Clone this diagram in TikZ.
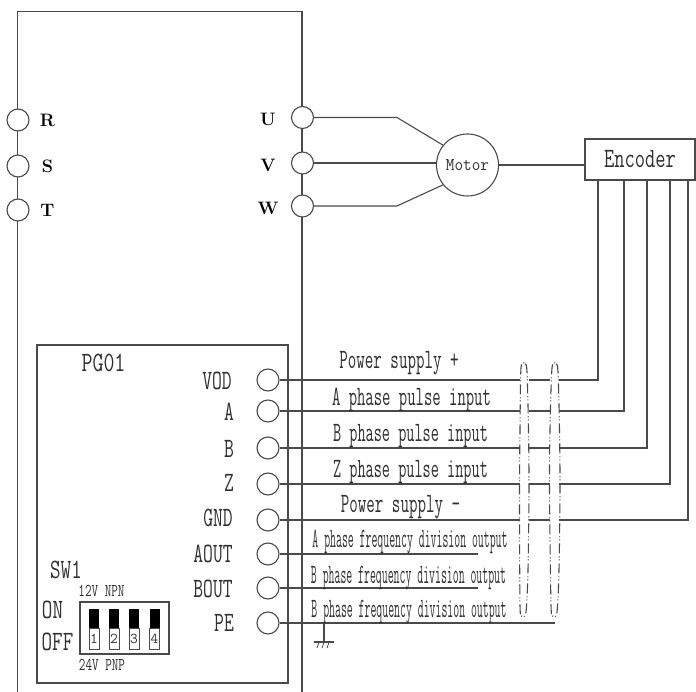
\documentclass[tikz,border=0pt]{standalone}
\usepackage{amsmath, amssymb, amsfonts, bm}

\definecolor{inkgray}{HTML}{4a4a4a}
\definecolor{textgray}{HTML}{303030}
\newcommand{\nrw}[2]{\scalebox{#1}[1]{#2}}

\tikzset{
  wire/.style={draw=inkgray, line width=1.1pt},
  term/.style={circle, draw=inkgray, line width=1.1pt, fill=white, inner sep=0pt, minimum size=22pt},
  lab/.style={text=textgray, inner sep=0pt, font=\ttfamily\fontsize{28}{30}\selectfont},
  smalllab/.style={text=textgray, inner sep=0pt, font=\ttfamily\fontsize{18}{20}\selectfont},
  boldlab/.style={text=black, inner sep=0pt, font=\bfseries\fontsize{18}{20}\selectfont},
  shield/.style={draw=inkgray, line width=1.1pt, dash pattern=on 10pt off 3pt on 1pt off 2pt on 1pt off 3pt}
}

\begin{document}
\begin{tikzpicture}[x=1pt,y=-1pt]
\useasboundingbox (0,0) rectangle (696,692);

\draw[wire] (17.5,692) -- (17.5,11.5) -- (302,11.5) -- (302,692);
\draw[wire] (37,345) rectangle (288,683);

\foreach \nm/\yy/\lab in {r/120/R, s/166/S, t/210/T}{
  \node[term] (\nm) at (18,\yy) {};
  \node[boldlab] (\nm lab) at (47.5,\yy) {\lab};
}
\foreach \nm/\yy/\lab in {u/117.5/U, v/163/V, w/206/W}{
  \node[term] (\nm) at (302.5,\yy) {};
  \node[boldlab] (\nm lab) at (268,\yy+2) {\lab};
}

\node[circle, draw=inkgray, line width=1.1pt, minimum size=62pt, inner sep=0pt] (motor) at (467.5,165) {};
\node[text=textgray, inner sep=0pt, font=\ttfamily\fontsize{18}{20}\selectfont] (motorlab) at (467.5,165) {\nrw{.93}{Motor}};
\node[draw=inkgray, line width=1.1pt, minimum width=110pt, minimum height=41pt, inner sep=0pt, lab] (enc) at (640,159.5) {\nrw{.71}{Encoder}};

\coordinate (ubend) at (397,117.5);
\coordinate (wbend) at (397,206);
\draw[wire] (u.east) -- (ubend) -- (motor.141);
\draw[wire] (v.east) -- (motor.west |- v.east);
\draw[wire] (w.east) -- (wbend) -- (motor.-141);
\draw[wire] (motor.east) -- (motor.east -| enc.west);

\node[lab] (pgname) at (103.5,363) {\nrw{.76}{PG01}};
\foreach \nm/\xx/\yy/\lab in {vod/217/381/VOD, a/229/412/A, b/229/449/B, z/229/483/Z, gnd/218/518/GND, aout/213/554/AOUT, bout/213/589/BOUT, pe/224/623/PE}{
  \node[lab] (\nm lab) at (\xx,\yy) {\nrw{.68}{\lab}};
}

\foreach \nm/\yy in {vod/380, a/411, b/448, z/484, gnd/520, aout/554, bout/588, pe/623}{
  \node[term] (\nm) at (268,\yy) {};
}

\foreach \nm/\yy/\xx in {vod/380/598, a/411/624, b/448/647, z/484/670, gnd/520/688}{
  \coordinate (\nm p) at (519.5,\yy);
  \coordinate (\nm q) at (528.5,\yy);
  \coordinate (\nm m) at (550,\yy);
  \coordinate (\nm n) at (559,\yy);
  \coordinate (\nm e) at (\xx,180);
  \draw[wire] (\nm.east) -- (\nm p);
  \draw[wire] (\nm q) -- (\nm m);
  \draw[wire] (\nm n) -| (\nm e);
}

\coordinate (aoutend) at (478,554);
\coordinate (boutend) at (478,588);
\coordinate (peend) at (555,623);
\draw[wire] (aout.east) -- (aoutend);
\draw[wire] (bout.east) -- (boutend);
\draw[wire] (pe.east) -- (peend);

\coordinate (gndtop) at (324,623);
\coordinate (gndbar) at (324,642);
\draw[wire] (gndtop) -- (gndbar);
\draw[wire] (314,642) -- (334,642);
\foreach \xx in {319,324,329}{
  \draw[draw=inkgray, line width=.8pt] (\xx,642) -- (\xx-2,648);
}

\draw[shield] plot[smooth cycle] coordinates {(521,368) (525,364) (527,372) (528.5,430) (529,490) (528,570) (526,612) (522,616) (520,605) (519.5,490) (520,430)};
\draw[shield] plot[smooth cycle] coordinates {(552,368) (556,364) (558,372) (559.5,430) (560,490) (559,570) (557,612) (553,616) (551,605) (549.5,490) (550,430)};

\node[lab] (lab1) at (399,363) {\nrw{.59}{Power supply +}};
\node[lab] (lab2) at (411.5,400) {\nrw{.58}{A phase pulse input}};
\node[lab] (lab3) at (410.5,436) {\nrw{.565}{B phase pulse input}};
\node[lab] (lab4) at (410.5,472) {\nrw{.565}{Z phase pulse input}};
\node[lab] (lab5) at (400.5,507) {\nrw{.59}{Power supply -}};
\node[lab] (lab6) at (410,542) {\nrw{.41}{A phase frequency division output}};
\node[lab] (lab7) at (408.5,578) {\nrw{.41}{B phase frequency division output}};
\node[lab] (lab8) at (409,612) {\nrw{.41}{B phase frequency division output}};

\node[lab] (swname) at (66,570) {\nrw{.73}{SW1}};
\node[lab] (onlab) at (52.5,610) {\nrw{.73}{ON}};
\node[lab] (offlab) at (57.5,642) {\nrw{.73}{OFF}};
\node[smalllab] (npnlab) at (101.5,591) {\nrw{.71}{12V NPN}};
\node[smalllab] (pnplab) at (102,665) {\nrw{.71}{24V PNP}};

\node[draw=inkgray, line width=1.1pt, minimum width=89pt, minimum height=52pt, inner sep=0pt] (swbox) at (124.5,628) {};
\foreach \xx/\lab in {94/1, 114/2, 134/3, 154.5/4}{
  \draw[draw=inkgray, line width=.9pt] (\xx-5,628) rectangle (\xx+5,649);
  \fill[black] (\xx-5,609) rectangle (\xx+5,628);
  \node[smalllab, font=\ttfamily\fontsize{15}{16}\selectfont] (sw\lab) at (\xx,639) {\lab};
}
\end{tikzpicture}
\end{document}
